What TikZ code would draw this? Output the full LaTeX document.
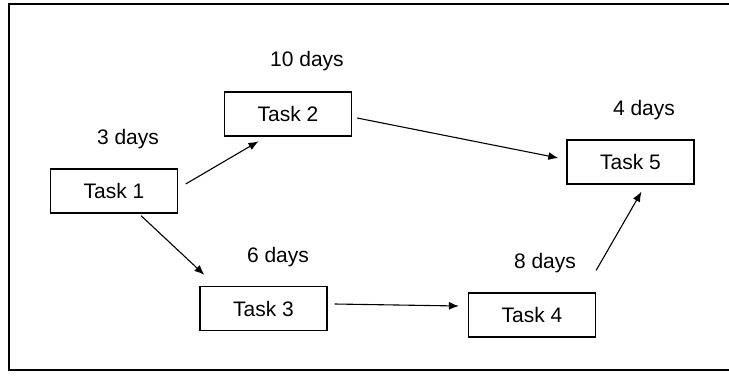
\documentclass[tikz,border=0pt]{standalone}
\usepackage{fontspec}
\setmainfont{Liberation Sans}
\usetikzlibrary{arrows.meta}

\begin{document}
\begin{tikzpicture}[x=1pt,y=-1pt,
	task/.style={draw, line width=1.3pt, minimum width=127pt, minimum height=44pt, inner sep=0pt, font=\fontsize{21}{25}\selectfont},
	dur/.style={font=\fontsize{21}{25}\selectfont},
	link/.style={line width=1.1pt, -{Latex[length=10pt,width=8pt]}}]
	\useasboundingbox (0,0) rectangle (729,376);
	\draw[line width=1.2pt] (729,4)--(9,4)--(9,370)--(729,370);
	\node[task] (t1) at (114,191) {Task 1};
	\node[task] (t2) at (288,114) {Task 2};
	\node[task] (t3) at (263.5,308.5) {Task 3};
	\node[task] (t4) at (532,315) {Task 4};
	\node[task] (t5) at (630.5,162) {Task 5};
	\node[dur] (d1) at (128,139) {3 days};
	\node[dur] (d2) at (307,61) {10 days};
	\node[dur] (d3) at (278,257) {6 days};
	\node[dur] (d4) at (545,263) {8 days};
	\node[dur] (d5) at (644,110) {4 days};
	\draw[link] ([shift={(7.5,-7)}]t1.east)--([shift={(-29.5,4.7)}]t2.south);
	\draw[link] ([shift={(27,2)}]t1.south)--([shift={(5,-11)}]t3.north west);
	\draw[link] ([shift={(5,4)}]t2.east)--([shift={(-8,-4)}]t5.west);
	\draw[link] ([shift={(7,-4.5)}]t3.east)--([shift={(-9,-9)}]t4.west);
	\draw[link] ([shift={(0,-22)}]t4.north east)--([shift={(11,7)}]t5.south);
\end{tikzpicture}
\end{document}
